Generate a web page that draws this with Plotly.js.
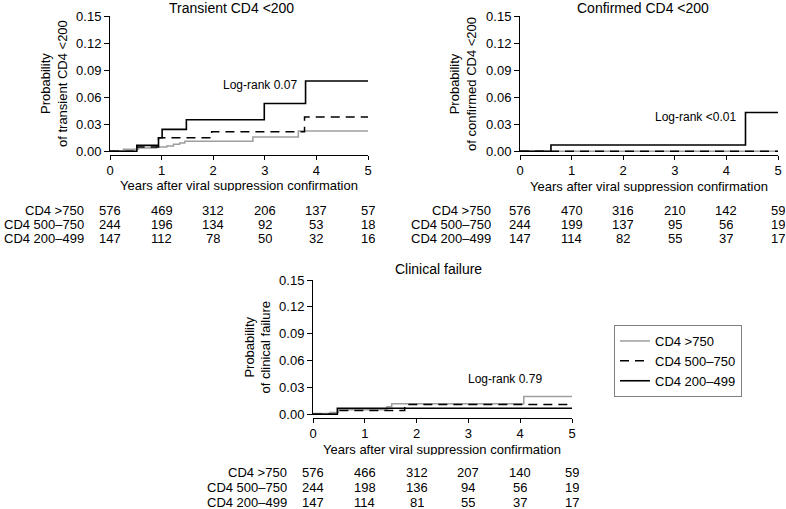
<!DOCTYPE html>
<html>
<head>
<meta charset="utf-8">
<script src="https://cdn.plot.ly/plotly-3.0.1.min.js"></script>
<style>html,body{margin:0;padding:0;background:#fff;}#chart{width:786px;height:509px;}</style>
</head>
<body>
<div id="chart"></div>
<script>
// ---------- data ----------
const groups = ["CD4 >750", "CD4 500\u2013750", "CD4 200\u2013499"];
const yearTicks = [0, 1, 2, 3, 4, 5];

// Panel 1: Transient CD4 <200
const p1_gt750_t = [0, 0.26, 0.55, 0.9, 1.1, 1.23, 1.35, 1.45, 2.77, 3.65, 5];
const p1_gt750_p = [0, 0.0022, 0.0037, 0.0048, 0.0059, 0.0077, 0.0092, 0.011, 0.0158, 0.0225, 0.0225];
const p1_500_t = [0, 0.52, 0.94, 1.97, 3.77, 5];
const p1_500_p = [0, 0.0048, 0.015, 0.0217, 0.038, 0.038];
const p1_200_t = [0, 0.52, 0.94, 1.01, 1.48, 2.99, 3.79, 5];
const p1_200_p = [0, 0.0065, 0.015, 0.0243, 0.0350, 0.0530, 0.078, 0.078];

// Panel 2: Confirmed CD4 <200
const p2_gt750_t = [0, 5];
const p2_gt750_p = [0, 0];
const p2_500_t = [0, 5];
const p2_500_p = [0, 0];
const p2_200_t = [0, 0.6, 4.37, 5];
const p2_200_p = [0, 0.0070, 0.043, 0.043];

// Panel 3: Clinical failure
const p3_gt750_t = [0, 0.02, 0.33, 0.49, 1.43, 1.52, 4.07, 5];
const p3_gt750_p = [0, 0.0009, 0.0019, 0.0052, 0.0085, 0.0118, 0.0200, 0.0200];
const p3_500_t = [0, 0.49, 1.77, 5];
const p3_500_p = [0, 0.0041, 0.0108, 0.0108];
const p3_200_t = [0, 0.47, 5];
const p3_200_p = [0, 0.0068, 0.0068];

// Numbers at risk
const risk1_gt750 = [576, 469, 312, 206, 137, 57];
const risk1_500 = [244, 196, 134, 92, 53, 18];
const risk1_200 = [147, 112, 78, 50, 32, 16];
const risk2_gt750 = [576, 470, 316, 210, 142, 59];
const risk2_500 = [244, 199, 137, 95, 56, 19];
const risk2_200 = [147, 114, 82, 55, 37, 17];
const risk3_gt750 = [576, 466, 312, 207, 140, 59];
const risk3_500 = [244, 198, 136, 94, 56, 19];
const risk3_200 = [147, 114, 81, 55, 37, 17];

const titles = ["Transient CD4 <200", "Confirmed CD4 <200", "Clinical failure"];
const yTitles = ["Probability<br>of transient CD4 <200", "Probability<br>of confirmed CD4 <200", "Probability<br>of clinical failure"];
const xTitle = "Years after viral suppression confirmation";
const logRank = ["Log-rank 0.07", "Log-rank <0.01", "Log-rank 0.79"];

// ---------- layout helpers ----------
const W = 786, H = 509;
const px = x => x / W;
const py = y => 1 - y / H;
const FONT = "Liberation Sans, Arial, sans-serif";

const styles = [
  {color: "#9e9e9e", width: 1.5, dash: "solid"},
  {color: "#000000", width: 1.5, dash: "9px,6px"},
  {color: "#000000", width: 1.6, dash: "solid"}
];

const panelData = [
  [[p1_gt750_t, p1_gt750_p], [p1_500_t, p1_500_p], [p1_200_t, p1_200_p]],
  [[p2_gt750_t, p2_gt750_p], [p2_500_t, p2_500_p], [p2_200_t, p2_200_p]],
  [[p3_gt750_t, p3_gt750_p], [p3_500_t, p3_500_p], [p3_200_t, p3_200_p]]
];
const riskData = [
  [risk1_gt750, risk1_500, risk1_200],
  [risk2_gt750, risk2_500, risk2_200],
  [risk3_gt750, risk3_500, risk3_200]
];

// geometry in pixels
const geo = [
  {l: 110, r: 368, t: 16, b: 152, title: [232, 8], ytl: 54, xtl: [239, 185], lr: [260, 85], rows: [210, 224, 238], lab: 85},
  {l: 520, r: 778, t: 16, b: 152, title: [643, 8], ytl: 463, xtl: [649, 186], lr: [695, 117], rows: [210, 224, 238], lab: 492},
  {l: 313, r: 572, t: 280, b: 415, title: [438, 269], ytl: 257, xtl: [442, 449], lr: [505, 379], rows: [472, 487, 502], lab: 288}
];

const traces = [];
const annotations = [];
const layout = {
  width: W, height: H,
  margin: {l: 0, r: 0, t: 0, b: 0},
  paper_bgcolor: "#fff", plot_bgcolor: "#fff",
  font: {family: FONT, size: 13, color: "#000"},
  showlegend: true,
  legend: {
    x: px(614), y: py(325), xanchor: "left", yanchor: "top",
    bordercolor: "#808080", borderwidth: 1, bgcolor: "#fff",
    font: {family: FONT, size: 13, color: "#000"},
    traceorder: "normal"
  },
  annotations: annotations
};

geo.forEach((g, i) => {
  const n = i === 0 ? "" : String(i + 1);
  const xa = "x" + n, ya = "y" + n;
  panelData[i].forEach((d, k) => {
    traces.push({
      x: d[0], y: d[1], xaxis: xa, yaxis: ya,
      type: "scatter", mode: "lines", line: Object.assign({shape: "hv"}, styles[k]),
      name: groups[k], showlegend: i === 2, hoverinfo: "skip"
    });
  });
  layout["xaxis" + n] = {
    domain: [px(g.l), px(g.r)], range: [0, 5], anchor: "free", position: py(g.b + 2.5),
    showline: true, linecolor: "#000", linewidth: 1, ticks: "outside", ticklen: 4, tickcolor: "#000",
    tickvals: yearTicks, ticktext: yearTicks.map(String), showgrid: false, zeroline: false,
    tickfont: {family: FONT, size: 13, color: "#000"}, fixedrange: true
  };
  layout["yaxis" + n] = {
    domain: [py(g.b), py(g.t)], range: [-0.0008, 0.15], anchor: xa,
    showline: true, linecolor: "#000", linewidth: 1, ticks: "outside", ticklen: 5, tickcolor: "#000",
    tick0: 0, dtick: 0.03, tickformat: ".2f", showgrid: false, zeroline: false,
    tickfont: {family: FONT, size: 13, color: "#000"}, fixedrange: true
  };
  annotations.push({text: titles[i], xref: "paper", yref: "paper", x: px(g.title[0]), y: py(g.title[1]),
    xanchor: "center", yanchor: "middle", showarrow: false, font: {family: FONT, size: 14, color: "#000"}});
  annotations.push({text: yTitles[i], xref: "paper", yref: "paper", x: px(g.ytl), y: py((g.t + g.b) / 2),
    xanchor: "center", yanchor: "middle", textangle: -90, showarrow: false, font: {family: FONT, size: 13, color: "#000"}});
  annotations.push({text: xTitle, xref: "paper", yref: "paper", x: px(g.xtl[0]), y: py(g.xtl[1]),
    xanchor: "center", yanchor: "middle", showarrow: false, height: 12, borderpad: 0,
    font: {family: FONT, size: 13, color: "#000"}});
  annotations.push({text: logRank[i], xref: "paper", yref: "paper", x: px(g.lr[0]), y: py(g.lr[1]),
    xanchor: "center", yanchor: "middle", showarrow: false, font: {family: FONT, size: 12, color: "#000"}});
  riskData[i].forEach((row, k) => {
    annotations.push({text: groups[k], xref: "paper", yref: "paper", x: px(g.lab), y: py(g.rows[k]),
      xanchor: "right", yanchor: "middle", showarrow: false, height: 12, borderpad: 0,
      font: {family: FONT, size: 13, color: "#000"}});
    row.forEach((v, j) => {
      annotations.push({text: String(v), xref: xa, yref: "paper", x: yearTicks[j], y: py(g.rows[k]),
        xanchor: "center", yanchor: "middle", showarrow: false, height: 12, borderpad: 0,
        font: {family: FONT, size: 13, color: "#000"}});
    });
  });
});

Plotly.newPlot("chart", traces, layout, {displayModeBar: false, staticPlot: true});
</script>
</body>
</html>
